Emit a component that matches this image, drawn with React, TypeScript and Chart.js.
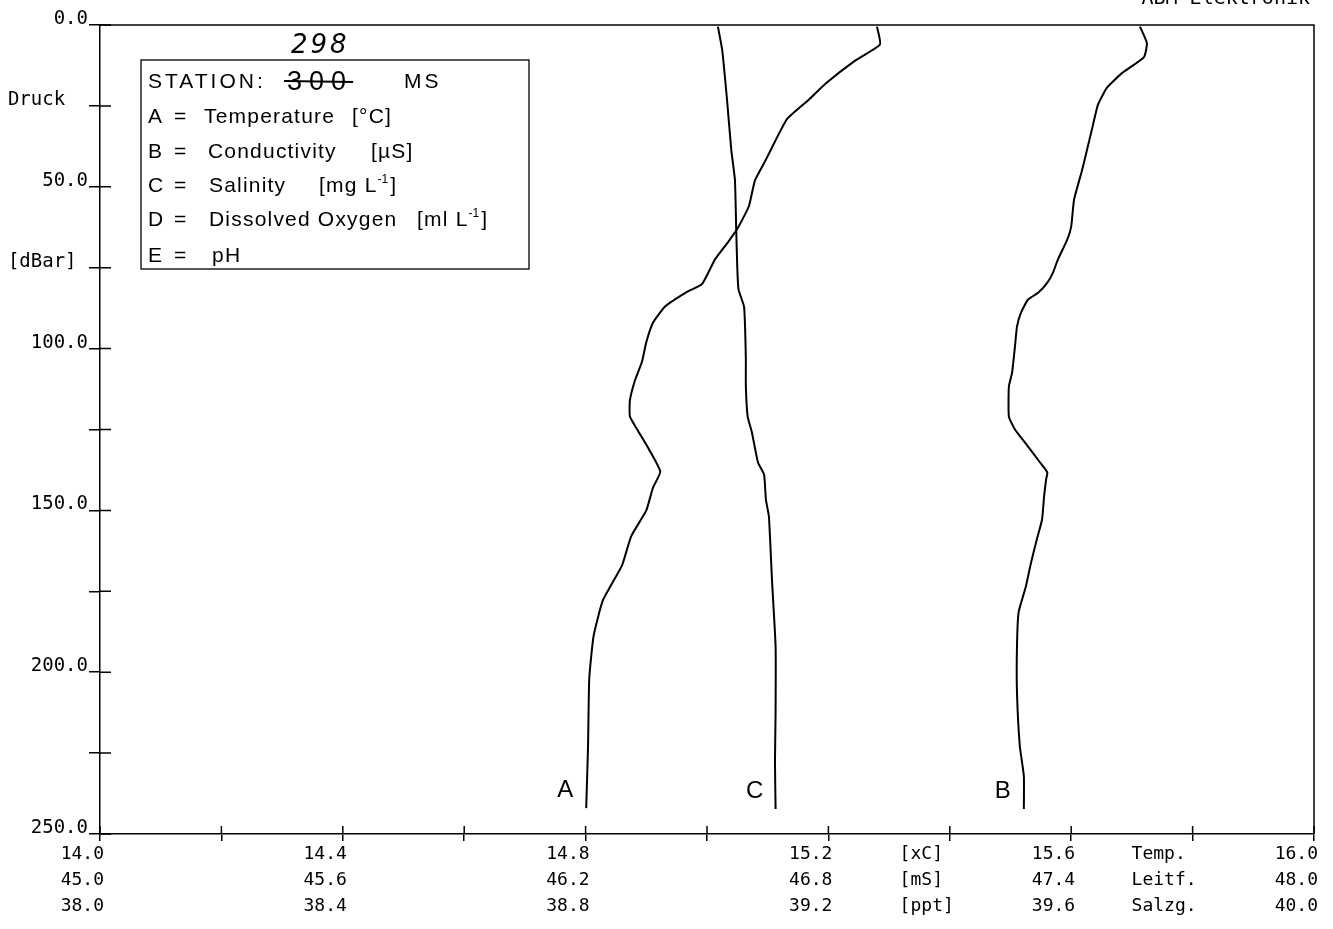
import React, { useEffect, useRef } from 'react';
import { Chart, registerables } from 'chart.js';

Chart.register(...registerables);

// ---- Data (depth in dBar) ----
const depthTemp = [0.5, 6, 11, 18, 23, 29, 36, 42, 48, 56, 63, 67, 72.5, 80, 82.5, 87, 92, 98, 104, 110, 116, 121, 125, 131, 138, 143, 150, 158, 167, 178, 189, 202, 223, 242];
const temperature = [15.28, 15.285, 15.244, 15.196, 15.168, 15.132, 15.112, 15.096, 15.079, 15.069, 15.05, 15.035, 15.013, 14.992, 14.967, 14.931, 14.911, 14.9, 14.893, 14.881, 14.873, 14.873, 14.885, 14.904, 14.923, 14.911, 14.9, 14.875, 14.86, 14.828, 14.813, 14.806, 14.804, 14.801];

const depthCond = [0.5, 5.6, 9.9, 14.8, 19.4, 24.7, 32.4, 38.6, 44.8, 54, 62.3, 66.4, 72.5, 76.5, 79.6, 82.7, 84.9, 88.9, 93.2, 99.4, 107.4, 111.7, 121, 125, 130.2, 135.2, 138.3, 140.4, 145.7, 152.8, 159, 166, 173.5, 181.5, 192, 206.2, 222.8, 232.1, 242.3];
const conductivity = [47.57, 47.587, 47.58, 47.526, 47.488, 47.466, 47.451, 47.439, 47.427, 47.407, 47.4, 47.39, 47.367, 47.355, 47.341, 47.319, 47.293, 47.276, 47.266, 47.261, 47.254, 47.246, 47.246, 47.261, 47.293, 47.323, 47.341, 47.338, 47.333, 47.328, 47.315, 47.301, 47.288, 47.27, 47.266, 47.266, 47.273, 47.283, 47.283];

const depthSal = [0.5, 7.7, 23.1, 38.6, 47.8, 62.3, 75.6, 81.8, 87, 95.1, 103.4, 111.7, 121, 125.9, 135.2, 138.9, 146.6, 151.9, 171.3, 192, 212.3, 227.8, 242.3];
const salinity = [39.018, 39.025, 39.033, 39.04, 39.046, 39.048, 39.05, 39.052, 39.061, 39.063, 39.064, 39.064, 39.067, 39.074, 39.084, 39.094, 39.097, 39.102, 39.107, 39.113, 39.113, 39.112, 39.113];

// ---- Tick labels ----
const tempTickLabels = ['14.0', '', '14.4', '', '14.8', '', '15.2', '[xC] ', '15.6', 'Temp. ', '16.0'];
const condTickLabels = ['45.0', '', '45.6', '', '46.2', '', '46.8', '[mS] ', '47.4', 'Leitf.', '48.0'];
const salTickLabels = ['38.0', '', '38.4', '', '38.8', '', '39.2', '[ppt]', '39.6', 'Salzg.', '40.0'];
const depthTickLabels = ['0.0', 'Druck  ', '50.0', '[dBar] ', '100.0', '', '150.0', '', '200.0', '', '250.0'];

// ---- Legend box text ----
const stationLabel = 'STATION:';
const stationOld = '300';
const stationNew = '298';
const stationSuffix = 'MS';
const legendLetters = ['A', 'B', 'C', 'D', 'E'];
const legendNames = ['Temperature', 'Conductivity', 'Salinity', 'Dissolved Oxygen', 'pH'];
const legendUnits = ['[°C]', '[µS]', '[mg L^-1]', '[ml L^-1]', ''];
const curveLetters = ['A', 'B', 'C'];
const cornerText = 'ABM Elektronik';

const MONO = '"DejaVu Sans Mono", monospace';
const SANS = '"Liberation Sans", Arial, sans-serif';

const toPoints = (xs: number[], ys: number[]) => xs.map((v, i) => ({ x: v, y: ys[i] }));

const decorPlugin = {
  id: 'decor',
  afterDraw(chart: any) {
    const { ctx, chartArea, scales } = chart;
    const { left, right, top, bottom } = chartArea;
    ctx.save();
    ctx.strokeStyle = '#000';
    ctx.fillStyle = '#000';
    ctx.lineWidth = 1.5;
    // frame top + right
    ctx.beginPath();
    ctx.moveTo(left, top);
    ctx.lineTo(right, top);
    ctx.lineTo(right, bottom);
    ctx.stroke();
    // inner halves of ticks (ticks cross the axes)
    ctx.beginPath();
    scales.y.ticks.forEach((_: any, i: number) => {
      const py = scales.y.getPixelForTick(i);
      ctx.moveTo(left, py);
      ctx.lineTo(left + 11, py);
    });
    scales.xT.ticks.forEach((_: any, i: number) => {
      const px = scales.xT.getPixelForTick(i);
      ctx.moveTo(px, bottom);
      ctx.lineTo(px, bottom - 8);
    });
    ctx.stroke();

    // legend box
    const bx = left + 41, by = top + 35, bw = 388, bh = 209;
    ctx.lineWidth = 1.3;
    ctx.strokeRect(bx, by, bw, bh);
    ctx.textBaseline = 'middle';
    ctx.textAlign = 'left';
    const tx = bx + 7;
    const rowY = [by + 22, by + 57, by + 92, by + 126, by + 160, by + 196];
    ctx.font = `21px ${SANS}`;
    (ctx as any).letterSpacing = '3px';
    ctx.fillText(stationLabel, tx, rowY[0]);
    ctx.fillText(stationSuffix, bx + 263, rowY[0]);
    ctx.font = `27px ${SANS}`;
    (ctx as any).letterSpacing = '7px';
    ctx.fillText(stationOld, bx + 146, rowY[0] + 1);
    const ow = ctx.measureText(stationOld).width;
    ctx.lineWidth = 1.8;
    ctx.beginPath();
    ctx.moveTo(bx + 143, rowY[0] - 1);
    ctx.lineTo(bx + 146 + ow, rowY[0]);
    ctx.stroke();
    // handwritten replacement number
    ctx.font = `italic 26px "DejaVu Sans", sans-serif`;
    (ctx as any).letterSpacing = '3px';
    ctx.fillText(stationNew, bx + 150, top + 21);

    const nameX = [bx + 63, bx + 67, bx + 68, bx + 68, bx + 71];
    const unitX = [bx + 211, bx + 230, bx + 178, bx + 276, 0];
    legendLetters.forEach((L, i) => {
      const y = rowY[i + 1];
      ctx.font = `21px ${SANS}`;
      (ctx as any).letterSpacing = '1.2px';
      ctx.fillText(L, tx, y);
      ctx.fillText('=', bx + 33, y);
      ctx.fillText(legendNames[i], nameX[i], y);
      const u = legendUnits[i];
      if (u) {
        const parts = u.split('^');
        if (parts.length === 1) {
          ctx.fillText(u, unitX[i], y);
        } else {
          const m = parts[1].match(/^(-?\d+)(.*)$/) || ['', parts[1], ''];
          ctx.fillText(parts[0], unitX[i], y);
          let x = unitX[i] + ctx.measureText(parts[0]).width;
          ctx.font = `12px ${SANS}`;
          (ctx as any).letterSpacing = '0px';
          ctx.fillText(m[1], x, y - 6);
          x += ctx.measureText(m[1]).width + 2;
          ctx.font = `21px ${SANS}`;
          (ctx as any).letterSpacing = '1.2px';
          ctx.fillText(m[2], x, y);
        }
      }
    });

    // curve labels at the deep end of each profile
    ctx.font = `24px ${SANS}`;
    (ctx as any).letterSpacing = '0px';
    ctx.textAlign = 'center';
    chart.data.datasets.forEach((ds: any, i: number) => {
      const last = ds.data[ds.data.length - 1];
      const xs = scales[ds.xAxisID];
      const px = xs.getPixelForValue(last.x);
      const py = scales.y.getPixelForValue(last.y);
      ctx.fillText(curveLetters[i], px - 21, py - 18);
    });

    // cut-off header text at the top right
    ctx.font = `20px ${MONO}`;
    ctx.textAlign = 'right';
    ctx.textBaseline = 'alphabetic';
    ctx.fillText(cornerText, right - 4, 4);
    ctx.restore();
  },
};

export default function App() {
  const ref = useRef<HTMLCanvasElement>(null);
  useEffect(() => {
    const canvas = ref.current;
    if (!canvas) return;
    const lineStyle = {
      showLine: true,
      borderColor: '#000',
      borderWidth: 2,
      pointRadius: 0,
      tension: 0.15,
      fill: false,
    };
    const chart = new Chart(canvas, {
      type: 'scatter',
      data: {
        datasets: [
          { label: 'A', data: toPoints(temperature, depthTemp), xAxisID: 'xT', yAxisID: 'y', ...lineStyle },
          { label: 'B', data: toPoints(conductivity, depthCond), xAxisID: 'xC', yAxisID: 'y', ...lineStyle },
          { label: 'C', data: toPoints(salinity, depthSal), xAxisID: 'xS', yAxisID: 'y', ...lineStyle },
        ],
      },
      options: {
        animation: false,
        responsive: true,
        maintainAspectRatio: false,
        layout: { padding: { top: 25, right: 19, left: 0, bottom: 0 } },
        plugins: { legend: { display: false }, tooltip: { enabled: false } },
        scales: {
          xT: {
            type: 'linear',
            position: 'bottom',
            min: 14,
            max: 16,
            ticks: {
              stepSize: 0.2,
              autoSkip: false,
              maxRotation: 0,
              minRotation: 0,
              align: 'end',
              labelOffset: 4,
              padding: 0,
              color: '#000',
              font: { family: MONO, size: 18, lineHeight: 1.444 },
              callback: (v: any) => {
                const i = Math.round((Number(v) - 14) / 0.2);
                return [tempTickLabels[i] ?? '', condTickLabels[i] ?? '', salTickLabels[i] ?? ''];
              },
            },
            grid: { display: true, drawOnChartArea: false, drawTicks: true, tickLength: 7, color: '#000', lineWidth: 1.5 },
            border: { display: true, color: '#000', width: 1.5 },
            afterFit: (s: any) => { s.height = 95; },
          },
          xC: { type: 'linear', display: false, min: 45, max: 48 },
          xS: { type: 'linear', display: false, min: 38, max: 40 },
          y: {
            type: 'linear',
            position: 'left',
            reverse: true,
            min: 0,
            max: 250,
            ticks: {
              stepSize: 25,
              autoSkip: false,
              labelOffset: -6,
              padding: 1,
              color: '#000',
              font: { family: MONO, size: 19 },
              callback: (v: any) => depthTickLabels[Math.round(Number(v) / 25)] ?? '',
            },
            grid: { display: true, drawOnChartArea: false, drawTicks: true, tickLength: 11, color: '#000', lineWidth: 1.5 },
            border: { display: true, color: '#000', width: 1.5 },
            afterFit: (s: any) => { s.width = 100; },
          },
        },
      },
      plugins: [decorPlugin],
    } as any);
    return () => chart.destroy();
  }, []);
  return (
    <div style={{ position: 'absolute', left: 0, top: 0, width: 1333, height: 929, background: '#fff' }}>
      <canvas ref={ref} />
    </div>
  );
}
